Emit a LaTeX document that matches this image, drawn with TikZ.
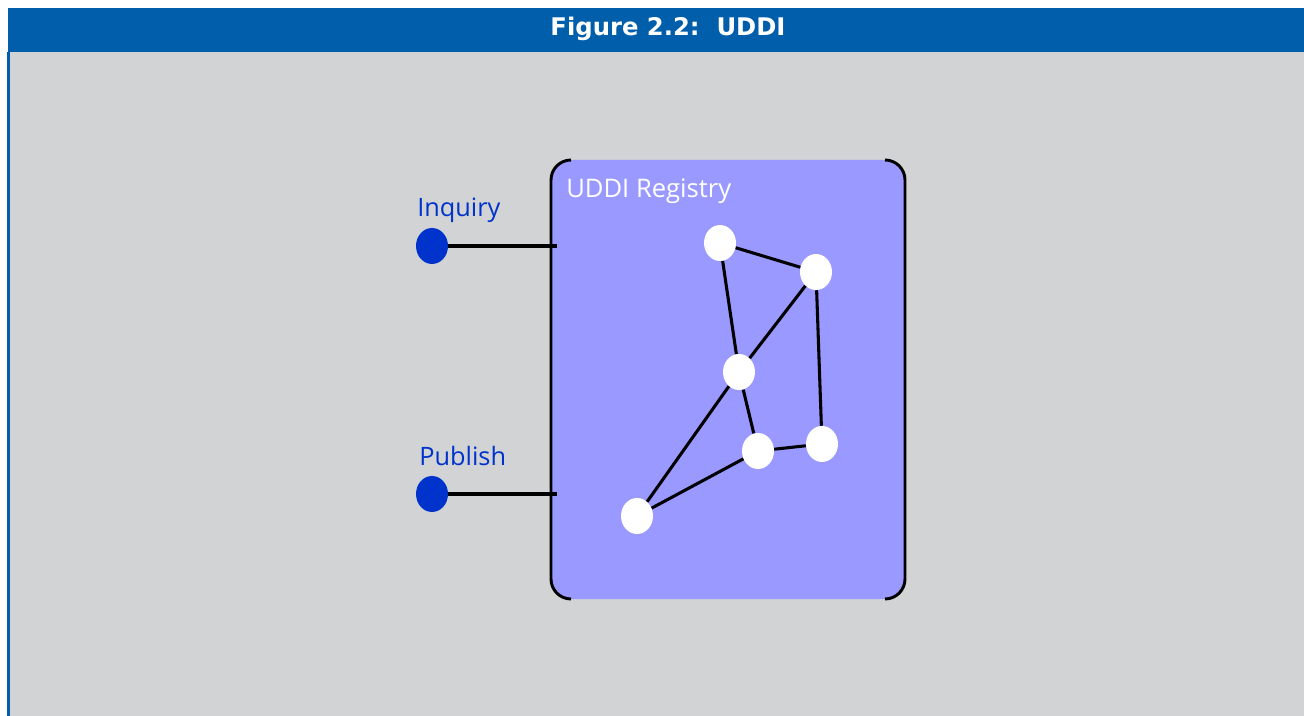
\documentclass[tikz,border=0pt]{standalone}
\usepackage{fontspec}
\setmainfont{Open Sans}
\newfontfamily\titlefont{DejaVu Sans}
\usepackage{tikz}
\usepackage{xcolor}
\usetikzlibrary{shapes.geometric}
\definecolor{barblue}{HTML}{005EAA}
\definecolor{panelgray}{HTML}{D2D3D5}
\definecolor{regviolet}{HTML}{9999FF}
\definecolor{portblue}{HTML}{0033CC}

\begin{document}
\begin{tikzpicture}[x=0.75pt,y=-0.75pt,
  regnode/.style={ellipse,fill=white,minimum width=24pt,minimum height=27pt,inner sep=0pt},
  portdot/.style={ellipse,fill=portblue,minimum width=24pt,minimum height=27pt,inner sep=0pt},
  link/.style={line width=2.3pt},
  portlabel/.style={anchor=base west,text=portblue,inner sep=0pt,font=\fontsize{19}{22}\selectfont}]
  \useasboundingbox (0,0) rectangle (1304,716);
  \fill[white] (0,0) rectangle (1304,716);
  % frame and title bar
  \fill[barblue] (8,8) rectangle (1304,52);
  \fill[panelgray] (10,52) rectangle (1304,716);
  \fill[barblue] (7,52) rectangle (10,716);
  \node[anchor=base,text=white,inner sep=0pt,font=\titlefont\bfseries\fontsize{18.2}{21}\selectfont] (title) at (668,36) {Figure 2.2:\ \ UDDI};
  % registry
  \fill[regviolet,rounded corners=15pt] (551,160) rectangle (905,599);
  \draw[line width=2.2pt] (571,160) arc[start angle=90,end angle=180,radius=15pt] -- (551,579) arc[start angle=180,end angle=270,radius=15pt];
  \draw[line width=2.2pt] (885,160) arc[start angle=90,end angle=0,radius=15pt] -- (905,579) arc[start angle=0,end angle=-90,radius=15pt];
  \node[anchor=base west,text=white,inner sep=0pt,font=\fontsize{19.2}{23}\selectfont] (reglabel) at (566,198) {UDDI Registry};
  \node[regnode] (r1) at (720,243) {};
  \node[regnode] (r2) at (816,272) {};
  \node[regnode] (r3) at (739,372) {};
  \node[regnode] (r4) at (758,451) {};
  \node[regnode] (r5) at (822,444) {};
  \node[regnode] (r6) at (637,516) {};
  \foreach \a/\b in {r1/r2,r1/r3,r2/r3,r2/r5,r3/r4,r4/r5,r3/r6,r4/r6}{ \draw[link] (\a) -- (\b); }
  % ports
  \node[portdot] (inqdot) at (432,246) {};
  \node[portdot] (pubdot) at (432,494) {};
  \coordinate (inqend) at (557,246);
  \coordinate (pubend) at (557,494);
  \draw[line width=3pt] (inqdot) -- (inqend);
  \draw[line width=3pt] (pubdot) -- (pubend);
  \node[portlabel] (inqlabel) at (417,217) {Inquiry};
  \node[portlabel] (publabel) at (419,466) {Publish};
\end{tikzpicture}
\end{document}
